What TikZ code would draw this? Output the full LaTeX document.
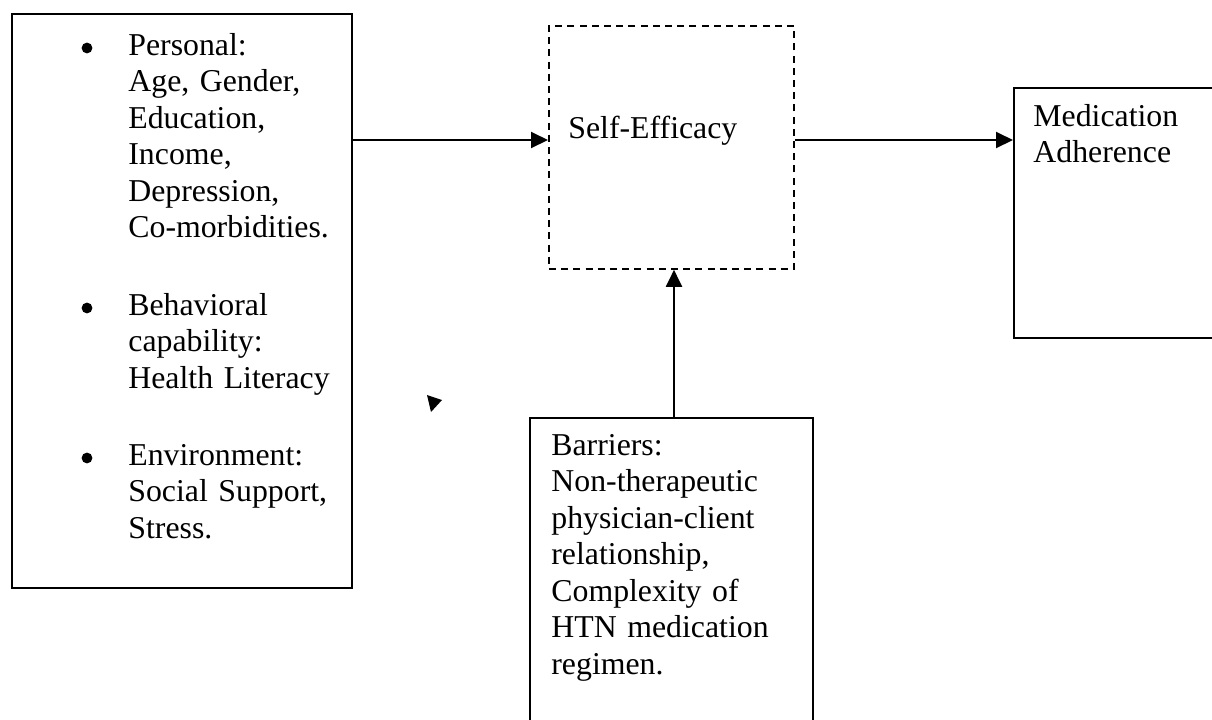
\documentclass[tikz,border=0pt]{standalone}
\usepackage{fontspec}
\setmainfont{Liberation Serif}
\usetikzlibrary{arrows.meta}
\tikzset{
  box/.style={draw, line width=0.9pt, rectangle, inner sep=0pt, anchor=north west},
  dbox/.style={box, dash pattern=on 3.5pt off 2.6pt},
  txt/.style={anchor=base west, inner sep=0pt, align=left, text width=#1,
    font=\fontsize{15.9pt}{18.25pt}\selectfont},
  txt/.default=150pt,
  bul/.style={circle, fill, inner sep=0pt, minimum size=5.4pt},
  arr/.style={line width=1pt, -{Triangle[length=8.5pt,width=8pt]}},
}
\begin{document}
\begin{tikzpicture}[x=0.5pt,y=-0.5pt]
\useasboundingbox (0,0) rectangle (1212,719);
\clip (0,0) rectangle (1212,719);
% boxes
\node[box, minimum width=170pt, minimum height=287.2pt] (left) at (11,12.7) {};
\node[dbox, minimum width=122.5pt, minimum height=121.5pt] (se) at (548,25) {};
\node[box, minimum width=110pt, minimum height=125pt] (med) at (1013,87) {};
\node[box, minimum width=141.5pt, minimum height=160pt] (bar) at (529,417) {};
% left box text
\node[bul] (b1) at (87,48) {};
\node[txt] (t1) at (128,55) {Personal:\\Age, Gender,\\Education,\\Income,\\Depression,\\Co-morbidities.};
\node[bul] (b2) at (87,308) {};
\node[txt] (t2) at (128,315) {Behavioral\\capability:\\Health Literacy};
\node[bul] (b3) at (87,458) {};
\node[txt] (t3) at (128,465) {Environment:\\Social Support,\\Stress.};
% other texts
\node[txt] (tse) at (568,138) {Self-Efficacy};
\node[txt] (tmed) at (1033,126) {Medication\\Adherence};
\node[txt] (tbar) at (551,455) {Barriers:\\Non-therapeutic\\physician-client\\relationship,\\Complexity of\\HTN medication\\regimen.};
% connectors
\draw[arr] (left.north east |- 0,140) -- (se.north west |- 0,140);
\draw[arr] (se.north east |- 0,140) -- (med.north west |- 0,140);
\draw[arr] (bar.north -| 674,0) -- (se.south -| 674,0);
% stray arrowhead
\fill (427,395) -- (442,400) -- (431,412) -- cycle;
\end{tikzpicture}
\end{document}
